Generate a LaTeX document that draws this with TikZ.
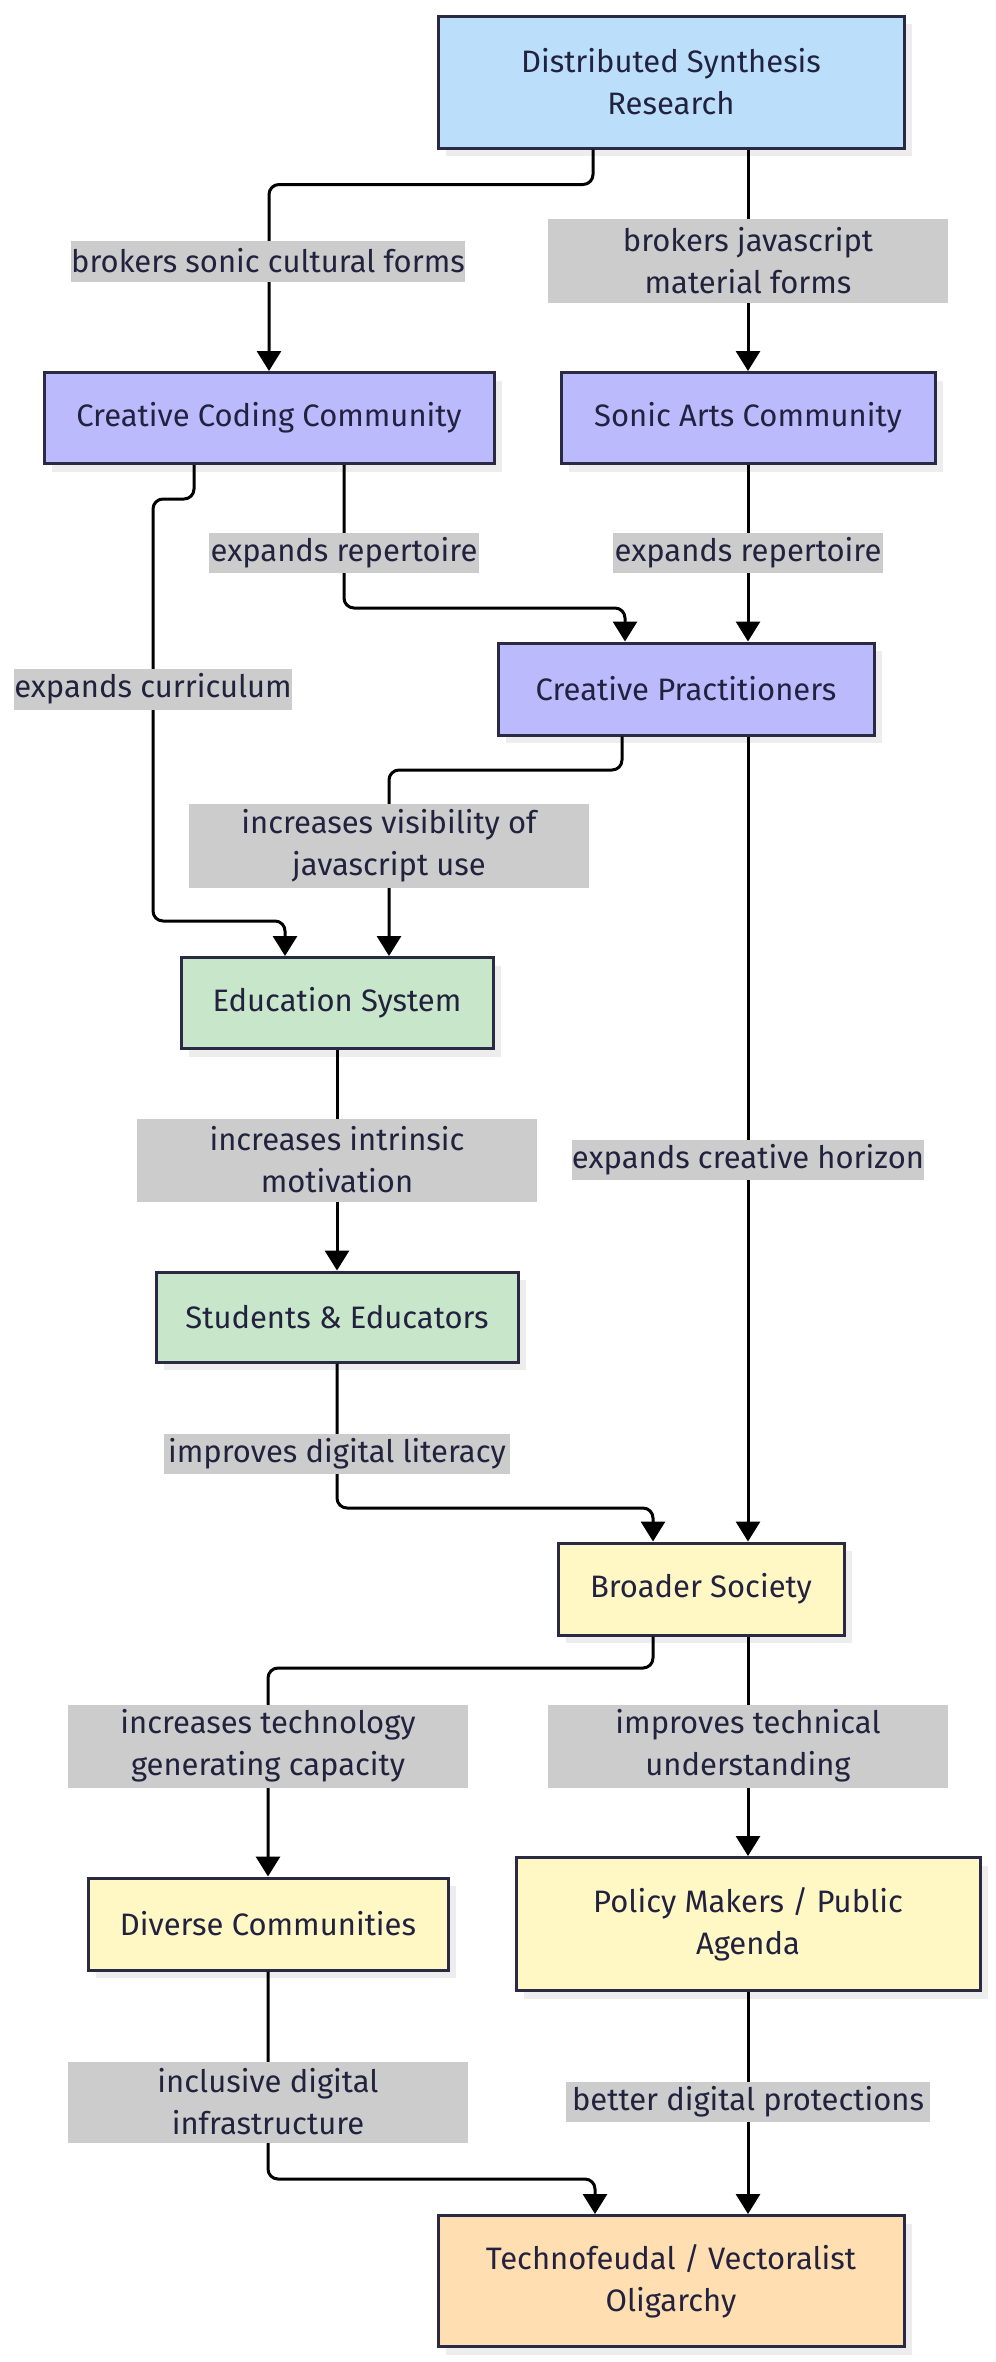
\documentclass[tikz,border=0pt]{standalone}
\usepackage{fontspec}
\setmainfont{Fira Sans}
\usetikzlibrary{arrows.meta,shadows}
\definecolor{txt}{HTML}{22223F}
\definecolor{rim}{HTML}{2A2A44}
\definecolor{blueish}{HTML}{BBDEFA}
\definecolor{lilac}{HTML}{BABAFD}
\definecolor{mint}{HTML}{C8E6C9}
\definecolor{cream}{HTML}{FFF8C5}
\definecolor{peach}{HTML}{FFDFB1}
\definecolor{lblgray}{HTML}{CCCCCC}
\begin{document}
\begin{tikzpicture}[x=0.5pt,y=-0.5pt,
    box/.style={draw=rim, line width=1.5pt, text=txt, align=center, inner sep=0pt,
        font=\fontsize{15.5}{21}\selectfont,
        drop shadow={shadow xshift=4pt, shadow yshift=-4pt, fill=black!7, opacity=1}},
    lbl/.style={fill=lblgray, text=txt, align=center, inner sep=0pt,
        font=\fontsize{15.5}{21}\selectfont},
    flow/.style={line width=1.5pt, rounded corners=5pt, -{Triangle[length=10pt,width=12pt]}}]
    \useasboundingbox (0,0) rectangle (996,2362);
    % Draw the boxes
    \node[box, fill=blueish, minimum width=233pt, minimum height=66pt] (dsr) at (671,82) {Distributed Synthesis\\Research};
    \node[box, fill=lilac, minimum width=225pt, minimum height=45.5pt] (ccc) at (269,418) {Creative Coding Community};
    \node[box, fill=lilac, minimum width=187pt, minimum height=45.5pt] (sac) at (748,418) {Sonic Arts Community};
    \node[box, fill=lilac, minimum width=188pt, minimum height=46pt] (cp) at (686,689) {Creative Practitioners};
    \node[box, fill=mint, minimum width=156pt, minimum height=45.5pt] (es) at (337,1003) {Education System};
    \node[box, fill=mint, minimum width=181pt, minimum height=45pt] (se) at (337,1317) {Students \& Educators};
    \node[box, fill=cream, minimum width=143pt, minimum height=46pt] (bs) at (701,1589) {Broader Society};
    \node[box, fill=cream, minimum width=180pt, minimum height=46pt] (dc) at (268,1924) {Diverse Communities};
    \node[box, fill=cream, minimum width=232pt, minimum height=66.5pt] (pm) at (748,1924) {Policy Makers / Public\\Agenda};
    \node[box, fill=peach, minimum width=233pt, minimum height=65.5pt] (tv) at (671,2281) {Technofeudal / Vectoralist\\Oligarchy};
    % Draw the edges
    \draw[flow] (dsr.south -| 593,0) -- ++(0,35) -| (ccc.north);
    \draw[flow] (dsr.south -| sac.north) -- (sac.north);
    \draw[flow] (ccc.south -| 194,0) -- ++(0,34) -| (153,921) -| (es.north -| 285,0);
    \draw[flow] (ccc.south -| 344,0) |- (625,608) -- (cp.north -| 625,0);
    \draw[flow] (sac.south) -- (sac.south |- cp.north);
    \draw[flow] (cp.south -| 622,0) |- (389,770) -- (es.north -| 389,0);
    \draw[flow] (cp.south -| 748,0) -- (bs.north -| 748,0);
    \draw[flow] (es.south) -- (se.north);
    \draw[flow] (se.south) |- (653,1508) -- (bs.north -| 653,0);
    \draw[flow] (bs.south -| 653,0) |- (268,1668) -- (dc.north);
    \draw[flow] (bs.south -| pm.north) -- (pm.north);
    \draw[flow] (dc.south) |- (595,2179) -- (tv.north -| 595,0);
    \draw[flow] (pm.south) -- (pm.south |- tv.north);
    % Edge labels
    \node[lbl, minimum width=196pt, minimum height=20.5pt] (l1) at (268,261) {brokers sonic cultural forms};
    \node[lbl, minimum width=200pt, minimum height=42pt] (l2) at (748,261) {brokers javascript\\material forms};
    \node[lbl, minimum width=135pt, minimum height=20pt] (l3) at (344,553) {expands repertoire};
    \node[lbl, minimum width=135pt, minimum height=20pt] (l4) at (748,553) {expands repertoire};
    \node[lbl, minimum width=136pt, minimum height=20.5pt] (l5) at (153,689) {expands curriculum};
    \node[lbl, minimum width=200pt, minimum height=42pt] (l6) at (389,846) {increases visibility of\\javascript use};
    \node[lbl, minimum width=200pt, minimum height=41.5pt] (l7) at (337,1160) {increases intrinsic\\motivation};
    \node[lbl, minimum width=175pt, minimum height=20pt] (l8) at (748,1160) {expands creative horizon};
    \node[lbl, minimum width=173pt, minimum height=20pt] (l9) at (337,1454) {improves digital literacy};
    \node[lbl, minimum width=200pt, minimum height=41.5pt] (l10) at (268,1746) {increases technology\\generating capacity};
    \node[lbl, minimum width=200pt, minimum height=41.5pt] (l11) at (748,1746) {improves technical\\understanding};
    \node[lbl, minimum width=200pt, minimum height=40.5pt] (l12) at (268,2102) {inclusive digital\\infrastructure};
    \node[lbl, minimum width=182pt, minimum height=20pt] (l13) at (748,2102) {better digital protections};
\end{tikzpicture}
\end{document}
